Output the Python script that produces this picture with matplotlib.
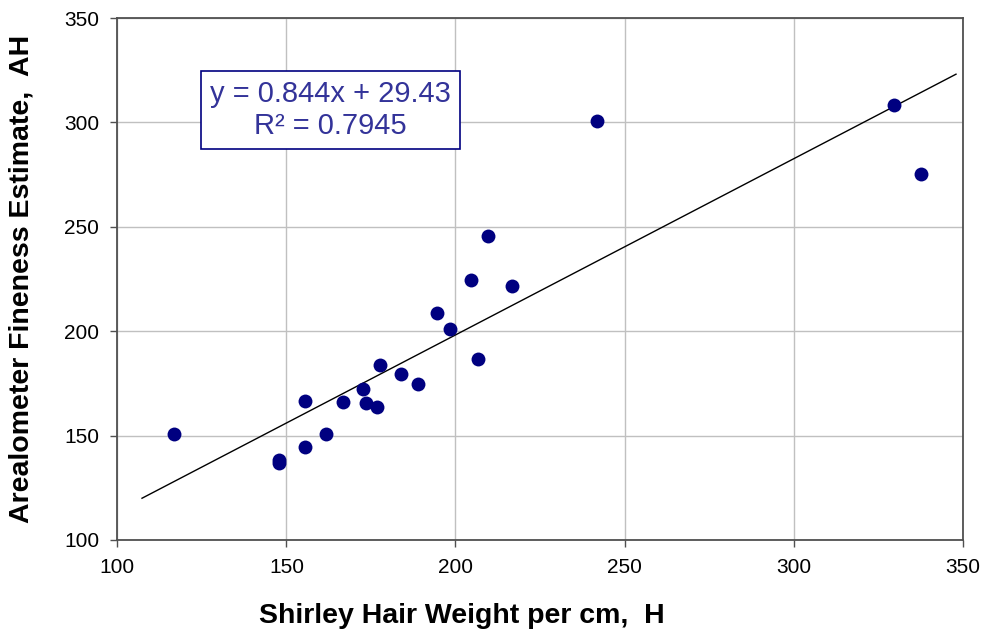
import numpy as np
import matplotlib
matplotlib.use("Agg")
import matplotlib.pyplot as plt

plt.rcParams['font.family'] = ['Liberation Sans', 'DejaVu Sans']

# Shirley hair weight (H) vs arealometer estimate (AH)
hair_weight = [116.8, 147.8, 147.8, 155.5, 155.5, 161.7, 166.7, 172.6, 173.6,
               176.8, 177.6, 183.8, 188.8, 194.6, 198.5, 204.7, 206.6, 209.7,
               216.6, 241.7, 329.6, 337.7]
areal_est = [150.6, 138.3, 136.7, 144.7, 166.6, 150.6, 165.9, 172.5, 165.8,
             163.7, 183.8, 179.5, 174.6, 208.6, 201.1, 224.4, 186.8, 245.4,
             221.6, 300.5, 308.5, 275.1]

# linear trend as reported on the chart
slope, intercept = 0.844, 29.43
r_squared = 0.7945
trend_x = np.array([107.3, 348.0])

x_ticks = [100, 150, 200, 250, 300, 350]
y_ticks = [100, 150, 200, 250, 300, 350]

fig = plt.figure(figsize=(9.9, 6.36), dpi=100)
ax = fig.add_axes([0.1185, 0.151, 0.854, 0.8205])

ax.plot(trend_x, slope * trend_x + intercept, color='black', lw=1.0, zorder=2)
ax.plot(hair_weight, areal_est, linestyle='none', marker='o', markersize=10,
        color='#000080', markeredgewidth=0, zorder=3)

ax.set_xlim(100, 350)
ax.set_ylim(100, 350)
ax.set_xticks(x_ticks)
ax.set_yticks(y_ticks)
ax.grid(True, color='#c0c0c0', lw=1.0)
ax.set_axisbelow(True)
for s in ax.spines.values():
    s.set_color('#505050')
    s.set_linewidth(1.3)
ax.tick_params(direction='out', length=5, width=1.0, color='#505050',
               labelsize=15, pad=8)

ax.set_xlabel('Shirley Hair Weight per cm,  H', fontsize=20.5,
              fontweight='bold')
ax.set_ylabel('Arealometer Fineness Estimate,  AH', fontsize=20.5,
              fontweight='bold')
# title sits left of the plot centre
ax.xaxis.set_label_coords(0.408, -0.121)
ax.yaxis.set_label_coords(-0.0985, 0.5)

eq = 'y = %.3fx + %.2f\nR² = %.4f' % (slope, intercept, r_squared)
ax.text(0.252, 0.824, eq, transform=ax.transAxes, ha='center', va='center',
        fontsize=21, color='#333399', linespacing=1.2,
        bbox=dict(boxstyle='square,pad=0.3', fc='white', ec='#000080', lw=1.2))

fig.savefig('out.png', dpi=100)
